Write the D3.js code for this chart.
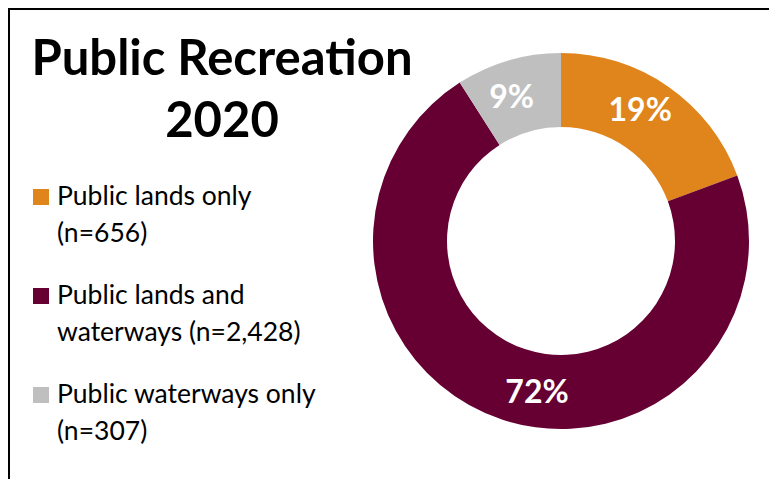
<!DOCTYPE html>
<html>
<head>
<meta charset="utf-8">
<script src="https://cdn.jsdelivr.net/npm/d3@7"></script>
<style>
  body { margin: 0; background: #fff; }
  svg { display: block; font-family: Lato, "Open Sans", sans-serif; }
</style>
</head>
<body>
<div class="chart"></div>
<script>
// data
var categories = ["Public lands only", "Public lands and waterways", "Public waterways only"];
var counts = [656, 2428, 307];
var legendLines = [["Public lands only", "(n=656)"], ["Public lands and", "waterways (n=2,428)"], ["Public waterways only", "(n=307)"]];
var colors = ["#E0851C", "#660033", "#BFBFBF"];
var titleLines = ["Public Recreation", "2020"];

var W = 769, H = 479;

var svg = d3.select(".chart").append("svg")
    .attr("width", W)
    .attr("height", H);

// frame (top + left only)
svg.append("path")
    .attr("d", "M9," + H + "V9H" + W)
    .attr("fill", "none")
    .attr("stroke", "#000")
    .attr("stroke-width", 2);

// title
svg.selectAll("text.title")
    .data(titleLines)
    .enter().append("text")
    .attr("class", "title")
    .attr("x", 222)
    .attr("y", function(d, i){ return 75 + i * 62; })
    .attr("text-anchor", "middle")
    .attr("font-size", 49)
    .attr("font-weight", "bold")
    .attr("fill", "#000")
    .text(function(d){ return d; });

// legend
var legend = svg.selectAll("g.leg")
    .data(categories)
    .enter().append("g")
    .attr("class", "leg")
    .attr("transform", function(d, i){ return "translate(33," + (205 + i * 99) + ")"; });

legend.append("rect")
    .attr("x", 0)
    .attr("y", -16)
    .attr("width", 16)
    .attr("height", 16)
    .attr("fill", function(d, i){ return colors[i]; });

legend.each(function(d, i){
    d3.select(this).selectAll("text")
        .data(legendLines[i])
        .enter().append("text")
        .attr("x", 24)
        .attr("y", function(t, j){ return j * 37; })
        .attr("font-size", 26.5)
        .attr("fill", "#000")
        .text(function(t){ return t; });
});

// donut
var cx = 561, cy = 241;
var total = d3.sum(counts);
var pie = d3.pie().sort(null)(counts);
var arc = d3.arc().innerRadius(114).outerRadius(188);
// small nudges so labels sit where the original puts them
var labelNudge = [[-7, -7], [24, 8], [-7, 1]];

var g = svg.append("g").attr("transform", "translate(" + cx + "," + cy + ")");

g.selectAll("path.slice")
    .data(pie)
    .enter().append("path")
    .attr("class", "slice")
    .attr("d", arc)
    .attr("fill", function(d, i){ return colors[i]; });

g.selectAll("text.pct")
    .data(pie)
    .enter().append("text")
    .attr("class", "pct")
    .attr("transform", function(d, i){
        var c = arc.centroid(d);
        return "translate(" + (c[0] + labelNudge[i][0]) + "," + (c[1] + labelNudge[i][1]) + ")";
    })
    .attr("text-anchor", "middle")
    .attr("dy", "0.35em")
    .attr("font-size", 32)
    .attr("font-weight", "bold")
    .attr("fill", "#fff")
    .text(function(d){ return d3.format(".0%")(d.value / total); });
</script>
</body>
</html>
